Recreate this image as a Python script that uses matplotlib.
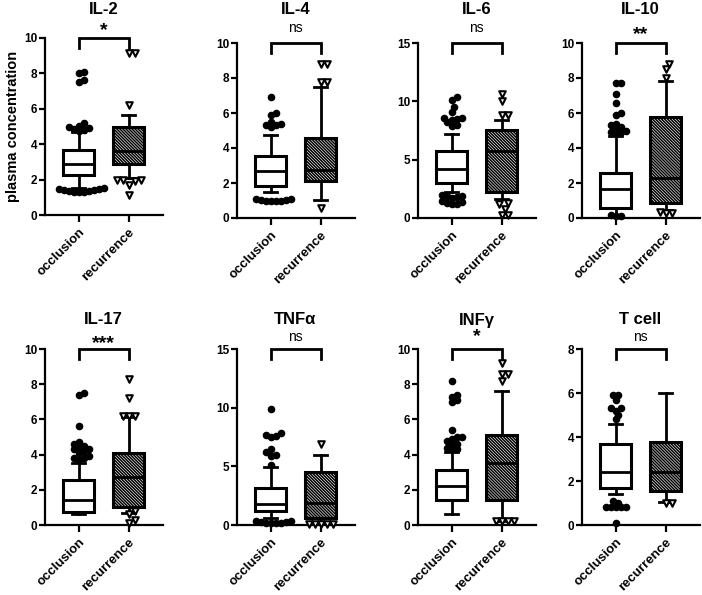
import numpy as np
import matplotlib.pyplot as plt

plt.rcParams['font.family'] = ['Liberation Sans', 'DejaVu Sans']
plt.rcParams['font.weight'] = 'bold'
plt.rcParams['hatch.linewidth'] = 1.1

# ---- data ----
panels = ['IL-2', 'IL-4', 'IL-6', 'IL-10', 'IL-17', 'TNFα', 'INFγ', 'T cell']
signif = ['*', 'ns', 'ns', '**', '***', 'ns', '*', 'ns']
ymax = [10, 10, 15, 10, 10, 15, 10, 8]
ystep = [2, 2, 5, 2, 2, 5, 2, 2]
groups = ['occlusion', 'recurrence']

occ_lo  = [1.50, 1.46, 2.20, 0.19, 0.65, 0.57, 0.61, 1.41]
occ_q1  = [2.26, 1.84, 2.99, 0.57, 0.72, 1.22, 1.43, 1.67]
occ_med = [2.89, 2.66, 4.19, 1.65, 1.42, 1.80, 2.19, 2.42]
occ_q3  = [3.68, 3.57, 5.78, 2.56, 2.56, 3.18, 3.12, 3.68]
occ_hi  = [4.70, 4.74, 7.18, 4.67, 3.54, 4.97, 4.13, 4.59]

rec_lo  = [2.07, 1.04, 1.60, 0.45, 0.70, 0.28, 0.23, 1.06]
rec_q1  = [2.89, 2.09, 2.19, 0.85, 1.00, 0.57, 1.41, 1.56]
rec_med = [3.64, 2.75, 5.78, 2.31, 2.75, 1.85, 3.50, 2.39]
rec_q3  = [5.00, 4.55, 7.55, 5.75, 4.07, 4.55, 5.09, 3.79]
rec_hi  = [5.66, 7.46, 8.40, 7.82, 6.12, 5.97, 7.62, 5.98]

occ_out = [
    [1.3, 1.35, 1.4, 1.45, 1.3, 1.4, 1.5, 1.35, 1.45, 1.3, 4.75, 4.85, 4.95, 5.05, 5.2, 4.8, 4.9, 7.5, 7.6, 8.0, 8.1],
    [0.95, 1.0, 1.05, 1.1, 1.0, 0.95, 1.05, 1.1, 6.9, 6.0, 5.9, 5.3, 5.3, 5.2, 5.4, 5.5],
    [10.4, 10.1, 9.5, 9.1, 8.6, 8.5, 8.4, 8.2, 8.0, 7.9, 8.6,
     2.0, 1.9, 1.8, 1.7, 1.5, 1.4, 1.3, 1.2, 1.2, 1.9],
    [7.7, 7.7, 7.1, 6.6, 6.0, 5.9, 5.4, 5.3, 5.2, 5.1, 5.0, 4.9, 4.8, 4.9, 0.1, 0.1, 0.15],
    [7.5, 7.4, 5.6, 4.7, 4.6, 4.5, 4.4, 4.3, 4.3, 4.2, 4.1, 3.9, 3.8, 3.8, 3.7],
    [9.9, 7.8, 7.6, 7.5, 7.7, 6.5, 6.2, 6.0, 5.9, 5.1,
     0.3, 0.2, 0.2, 0.25, 0.3, 0.2, 0.15, 0.25],
    [8.2, 7.4, 7.3, 7.0, 7.1, 5.4, 5.0, 5.0, 4.9, 4.8, 4.6, 4.6, 4.4, 4.3, 4.3],
    [5.9, 5.9, 5.7, 5.3, 5.3, 5.2, 5.0, 4.8, 1.1, 1.0, 0.8, 0.8, 0.8, 0.8, 0.8, 0.1],
]
rec_out = [
    [9.15, 9.15, 6.2, 2.0, 1.95, 1.95, 1.9, 1.7, 1.15],
    [8.8, 8.8, 7.8, 7.8, 0.6],
    [10.6, 10.0, 8.8, 8.8, 1.3, 1.2, 0.8, 0.3, 0.3],
    [8.8, 8.5, 8.0, 0.3, 0.3, 0.35],
    [8.3, 7.2, 6.2, 6.2, 6.2, 0.6, 0.3, 0.1, 0.8],
    [6.9, 0.1, 0.1, 0.1, 0.1, 0.1],
    [9.2, 8.6, 8.6, 8.2, 0.2, 0.2, 0.2, 0.2],
    [1.0, 1.0],
]

# ---- layout (pixels in a 702x595 canvas) ----
W, H = 702, 595
lefts = [45, 237, 418, 582]
tops = [[38, 43, 43, 43], [349, 349, 349, 349]]
bottoms = [[215, 218, 218, 218], [525, 525, 525, 525]]
title_y = [10, 320]
sig_y = [[27, 28, 28, 31], [340, 337, 333, 337]]
px_per_x = 50.0
xlim = (-0.67, 1.68)


def swarm(vals, px_per_y, d=5.0):
    # simple beeswarm: place each point at the closest free horizontal offset
    order = np.argsort(vals)
    placed = []
    offs = np.zeros(len(vals))
    cands = [0.0]
    for j in range(1, 30):
        cands += [j * d / 2, -j * d / 2]
    for i in order:
        y = vals[i] * px_per_y
        for c in cands:
            if all(np.hypot(c - px, y - py) >= d for px, py in placed):
                placed.append((c, y))
                offs[i] = c / px_per_x
                break
    return offs


fig = plt.figure(figsize=(W / 100, H / 100), dpi=100)

for k in range(8):
    r, c = divmod(k, 4)
    top, bot = tops[r][c], bottoms[r][c]
    wpx = (xlim[1] - xlim[0]) * px_per_x
    ax = fig.add_axes([lefts[c] / W, 1 - bot / H, wpx / W, (bot - top) / H])

    stats = [
        dict(whislo=occ_lo[k], q1=occ_q1[k], med=occ_med[k], q3=occ_q3[k], whishi=occ_hi[k], fliers=[]),
        dict(whislo=rec_lo[k], q1=rec_q1[k], med=rec_med[k], q3=rec_q3[k], whishi=rec_hi[k], fliers=[]),
    ]
    bp = ax.bxp(stats, positions=[0, 1], widths=0.62, capwidths=0.26, patch_artist=True,
                showfliers=False,
                boxprops=dict(linewidth=2.2, edgecolor='black', facecolor='white'),
                medianprops=dict(linewidth=2.0, color='black'),
                whiskerprops=dict(linewidth=2.0, color='black'),
                capprops=dict(linewidth=2.0, color='black'))
    bp['boxes'][1].set_hatch('\\' * 11)
    for b in bp['boxes']:
        b.set_zorder(2)

    px_per_y = (bot - top) / ymax[k]
    v = np.array(occ_out[k])
    ax.scatter(0 + swarm(v, px_per_y), v, s=20, marker='o', color='black', zorder=4, clip_on=False)
    v = np.array(rec_out[k])
    ax.scatter(1 + swarm(v, px_per_y, d=6.0), v, s=22, marker='v', facecolor='white', edgecolor='black',
               linewidth=1.5, zorder=4, clip_on=False)

    ax.set_xlim(*xlim)
    ax.set_ylim(0, ymax[k])
    ax.set_yticks(np.arange(0, ymax[k] + 0.1, ystep[k]))
    ax.set_xticks([0, 1])
    ax.set_xticklabels(groups, rotation=45, ha='right', rotation_mode='anchor', fontsize=9.5)
    ax.tick_params(axis='y', labelsize=8.5, width=1.6, length=4, pad=1.5)
    ax.tick_params(axis='x', width=1.6, length=5, pad=3)
    for s in ['top', 'right']:
        ax.spines[s].set_visible(False)
    for s in ['left', 'bottom']:
        ax.spines[s].set_linewidth(1.6)

    # significance bracket
    d = 10 * ymax[k] / (bot - top)
    ax.plot([0, 0, 1, 1], [ymax[k] - d, ymax[k], ymax[k], ymax[k] - d], color='black',
            lw=2, clip_on=False, solid_joinstyle='miter')

    xc = (lefts[c] + (0.5 - xlim[0]) * px_per_x) / W
    if signif[k] == 'ns':
        fig.text(xc, 1 - sig_y[r][c] / H, 'ns', ha='center', va='center', fontsize=10, fontweight='normal')
    else:
        # asterisks sit high in their line box, so shift them down a little
        fig.text(xc, 1 - (sig_y[r][c] + 4) / H, signif[k], ha='center', va='center', fontsize=14,
                 fontweight='bold')
    fig.text(xc, 1 - title_y[r] / H, panels[k], ha='center', va='center', fontsize=12, fontweight='bold')

    if k == 0:
        ax.set_ylabel('plasma concentration', fontsize=10.5, fontweight='bold', labelpad=3)

fig.savefig('out.png', dpi=100)
